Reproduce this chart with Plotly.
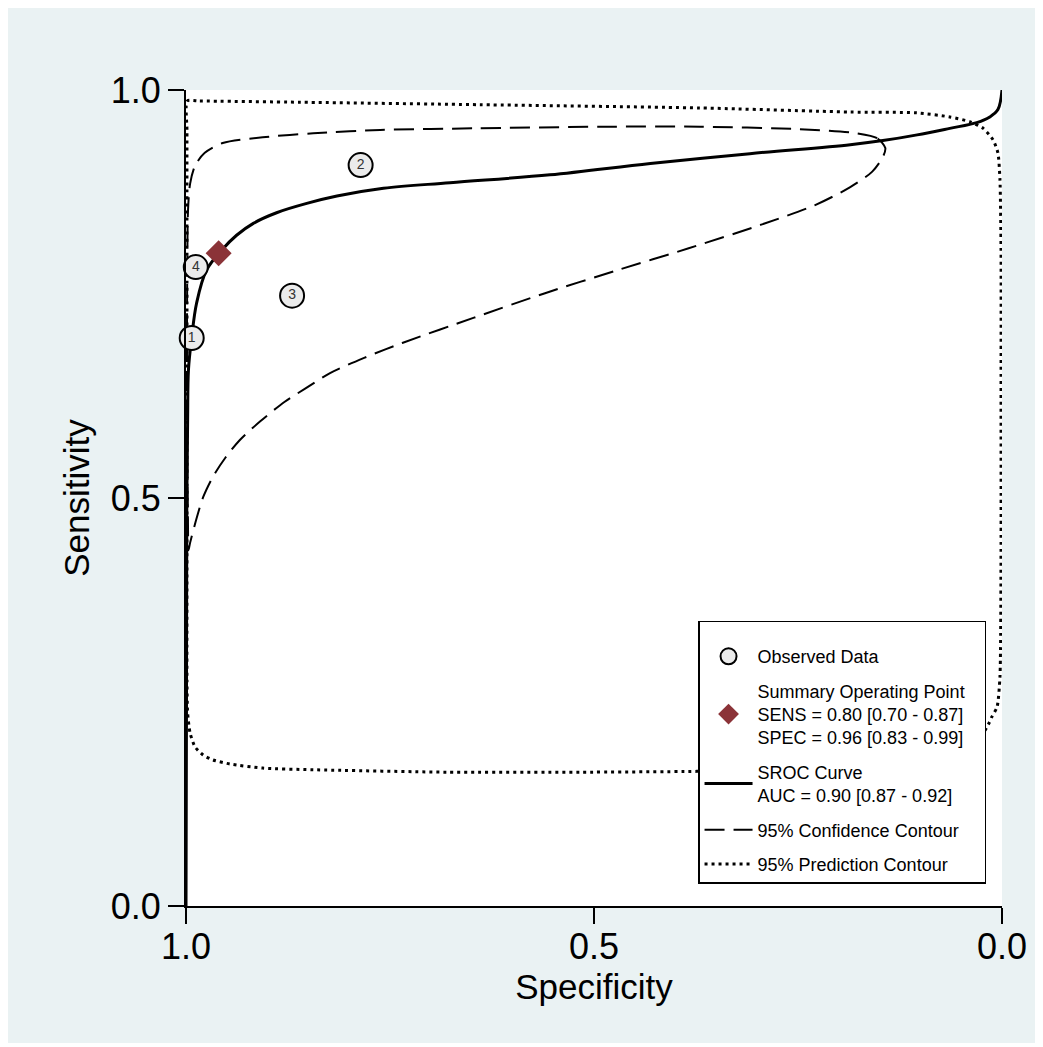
import plotly.graph_objects as go

# ---------------- data ----------------
study_ids = ["1", "2", "3", "4"]
obs_spec = [0.993, 0.786, 0.870, 0.988]
obs_sens = [0.696, 0.908, 0.748, 0.783]

summary_spec = [0.960]
summary_sens = [0.800]

sroc_spec = [1.000, 0.9994, 0.999, 0.998, 0.997, 0.993, 0.987, 0.975, 0.956, 0.938,
             0.9175, 0.889, 0.852, 0.815, 0.758, 0.6765, 0.554, 0.431, 0.309, 0.186,
             0.146, 0.104, 0.064, 0.031, 0.015, 0.005, 0.000]
sroc_sens = [0.000, 0.252, 0.498, 0.596, 0.657, 0.697, 0.739, 0.779, 0.804, 0.822,
             0.8366, 0.8496, 0.861, 0.870, 0.8795, 0.8864, 0.896, 0.910, 0.922, 0.933,
             0.938, 0.945, 0.953, 0.960, 0.967, 0.976, 1.000]

conf_spec = [0.143, 0.153, 0.178, 0.248, 0.370, 0.493, 0.648, 0.762, 0.844, 0.906,
             0.955, 0.977, 0.989, 0.995, 0.9975, 0.9984, 0.9988, 0.9985, 0.9975, 0.997,
             0.995, 0.9865, 0.979, 0.967, 0.952, 0.934, 0.909, 0.879, 0.854, 0.8235,
             0.781, 0.735, 0.647, 0.560, 0.472, 0.384, 0.295, 0.229, 0.186, 0.159,
             0.146, 0.143]
conf_sens = [0.929, 0.941, 0.947, 0.952, 0.955, 0.955, 0.953, 0.951, 0.947, 0.942,
             0.935, 0.923, 0.907, 0.885, 0.853, 0.792, 0.681, 0.559, 0.461, 0.436,
             0.445, 0.477, 0.501, 0.526, 0.549, 0.571, 0.594, 0.618, 0.634, 0.653,
             0.672, 0.690, 0.721, 0.751, 0.779, 0.806, 0.835, 0.859, 0.881, 0.900,
             0.918, 0.929]

pred_spec = [0.9985, 0.983, 0.860, 0.640, 0.370, 0.186, 0.104, 0.064, 0.039, 0.023,
             0.011, 0.005, 0.0025, 0.0012, 0.0012, 0.0012, 0.0025, 0.006, 0.0123, 0.016,
             0.033, 0.076, 0.186, 0.374, 0.517, 0.680, 0.844, 0.906, 0.946, 0.967,
             0.979, 0.989, 0.995, 0.998, 0.9988, 0.9988, 0.9988, 0.9988, 0.9985]
pred_sens = [0.9865, 0.9865, 0.985, 0.982, 0.978, 0.973, 0.972, 0.967, 0.961, 0.953,
             0.939, 0.923, 0.890, 0.804, 0.620, 0.436, 0.281, 0.244, 0.232, 0.224,
             0.197, 0.179, 0.169, 0.165, 0.164, 0.164, 0.167, 0.169, 0.174, 0.179,
             0.185, 0.195, 0.212, 0.2365, 0.277, 0.4975, 0.743, 0.950, 0.9865]

tick_vals = [0.0, 0.5, 1.0]
tick_text = ["0.0", "0.5", "1.0"]

label_obs = "Observed Data"
label_sum = "Summary Operating Point<br>SENS = 0.80 [0.70 - 0.87]<br>SPEC = 0.96 [0.83 - 0.99]"
label_sroc = "SROC Curve<br>AUC = 0.90 [0.87 - 0.92]"
label_conf = "95% Confidence Contour"
label_pred = "95% Prediction Contour"

x_title = "Specificity"
y_title = "Sensitivity"

# ---------------- styling ----------------
FONT = "Liberation Sans, Arial, Helvetica, sans-serif"
BG = "#EAF2F3"
DIAMOND = "#8B3338"
LEGEND_SPACER = "\u00a0" * 84   # blank legend title that only widens the box

fig = go.Figure()

fig.add_trace(go.Scatter(
    x=pred_spec, y=pred_sens, mode="lines", name=label_pred,
    legendgroup="pred", legendrank=5, hoverinfo="skip",
    line=dict(color="black", width=3, dash="3px,4px", shape="spline", smoothing=0.6)))

fig.add_trace(go.Scatter(
    x=conf_spec, y=conf_sens, mode="lines", name=label_conf,
    legendgroup="conf", legendrank=4, hoverinfo="skip",
    line=dict(color="black", width=2, dash="20px,9px", shape="spline", smoothing=0.8)))

fig.add_trace(go.Scatter(
    x=sroc_spec, y=sroc_sens, mode="lines", name=label_sroc,
    legendgroup="sroc", legendrank=3, hoverinfo="skip",
    line=dict(color="black", width=3, shape="spline", smoothing=1.0)))

fig.add_trace(go.Scatter(
    x=obs_spec, y=obs_sens, mode="markers", name=label_obs,
    legendgroup="obs", legendrank=1, cliponaxis=False,
    marker=dict(symbol="circle", size=24, color="#EBEBEB",
                line=dict(color="black", width=2))))

fig.add_trace(go.Scatter(
    x=obs_spec, y=obs_sens, mode="text", text=study_ids, showlegend=False,
    legendgroup="obs", cliponaxis=False, hoverinfo="skip",
    textposition="middle center",
    textfont=dict(family=FONT, size=14, color="#333333")))

fig.add_trace(go.Scatter(
    x=summary_spec, y=summary_sens, mode="markers", name=label_sum,
    legendgroup="sum", legendrank=2, cliponaxis=False,
    marker=dict(symbol="diamond", size=20, color=DIAMOND, line=dict(width=0))))

axis_common = dict(
    tickvals=tick_vals, ticktext=tick_text, ticks="outside", ticklen=16,
    tickwidth=2, tickcolor="black", showline=True, linecolor="black",
    linewidth=2, showgrid=False, zeroline=False,
    tickfont=dict(family=FONT, size=36, color="black"),
)

fig.update_xaxes(range=[1, 0], ticklabelstandoff=-8,
                 title=dict(text=x_title, standoff=2,
                            font=dict(family=FONT, size=35, color="black")),
                 **axis_common)
fig.update_yaxes(range=[0, 1],
                 title=dict(text=y_title, standoff=11,
                            font=dict(family=FONT, size=35, color="black")),
                 **axis_common)

# page body has an 8px margin: plot area sits at fig x 178..994, y 82..898
fig.update_layout(
    width=1035, height=1039,
    margin=dict(l=178, r=41, t=82, b=141, autoexpand=False),
    paper_bgcolor="white", plot_bgcolor="white",
    font=dict(family=FONT, color="black"),
    showlegend=True,
    legend=dict(
        x=0.6275, y=0.3493, xanchor="left", yanchor="top",
        bgcolor="white", bordercolor="black", borderwidth=1.5,
        font=dict(family=FONT, size=18, color="black"),
        itemwidth=48, tracegroupgap=8, traceorder="grouped",
        title=dict(text=LEGEND_SPACER, font=dict(family=FONT, size=12)),
    ),
    shapes=[
        dict(type="rect", xref="paper", yref="paper", x0=-0.2181, x1=1.0466,
             y0=-0.1679, y1=1.1005, fillcolor=BG, line=dict(width=0), layer="below"),
        dict(type="rect", xref="paper", yref="paper", x0=0, x1=1, y0=0, y1=1,
             fillcolor="white", line=dict(width=0), layer="below"),
    ],
)

fig.write_html("out.html")
